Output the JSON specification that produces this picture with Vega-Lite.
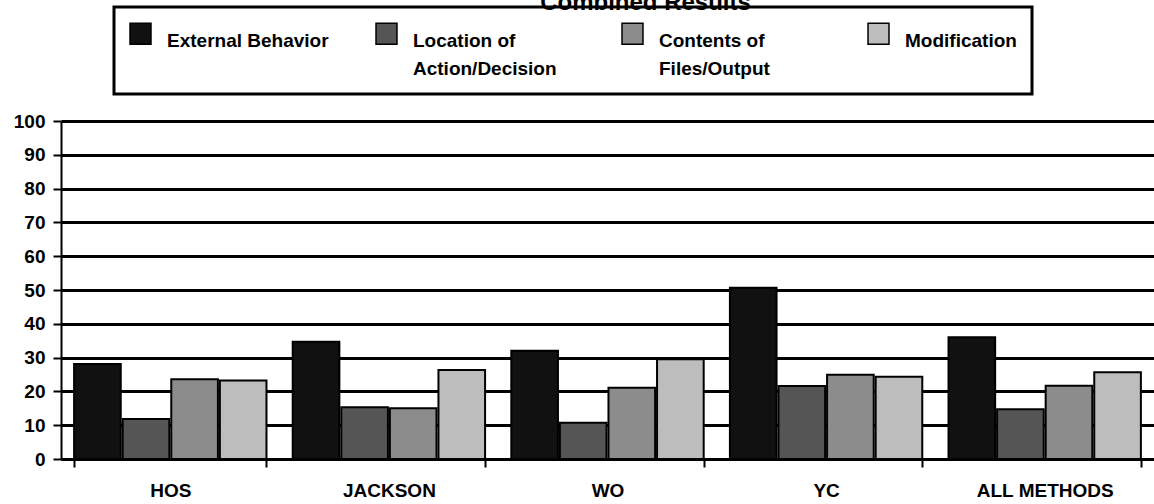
{
  "$schema": "https://vega.github.io/schema/vega-lite/v6.json",
  "width": 1093,
  "height": 338,
  "autosize": "none",
  "padding": {"left": 61, "top": 121, "right": 0, "bottom": 45},
  "background": "white",
  "title": {
    "text": "Combined Results",
    "font": "Liberation Sans",
    "fontSize": 24,
    "fontWeight": "bold",
    "color": "black",
    "anchor": "middle",
    "baseline": "alphabetic",
    "dx": 38,
    "dy": 31,
    "offset": 3
  },
  "data": {
    "values": [
      {"method": "HOS", "category": "External Behavior", "value": 28.1},
      {"method": "HOS", "category": "Location of Action/Decision", "value": 11.8},
      {"method": "HOS", "category": "Contents of Files/Output", "value": 23.6},
      {"method": "HOS", "category": "Modification", "value": 23.2},
      {"method": "JACKSON", "category": "External Behavior", "value": 34.7},
      {"method": "JACKSON", "category": "Location of Action/Decision", "value": 15.3},
      {"method": "JACKSON", "category": "Contents of Files/Output", "value": 15.0},
      {"method": "JACKSON", "category": "Modification", "value": 26.3},
      {"method": "WO", "category": "External Behavior", "value": 32.0},
      {"method": "WO", "category": "Location of Action/Decision", "value": 10.7},
      {"method": "WO", "category": "Contents of Files/Output", "value": 21.1},
      {"method": "WO", "category": "Modification", "value": 29.5},
      {"method": "YC", "category": "External Behavior", "value": 50.7},
      {"method": "YC", "category": "Location of Action/Decision", "value": 21.6},
      {"method": "YC", "category": "Contents of Files/Output", "value": 24.9},
      {"method": "YC", "category": "Modification", "value": 24.3},
      {"method": "ALL METHODS", "category": "External Behavior", "value": 36.0},
      {"method": "ALL METHODS", "category": "Location of Action/Decision", "value": 14.7},
      {"method": "ALL METHODS", "category": "Contents of Files/Output", "value": 21.7},
      {"method": "ALL METHODS", "category": "Modification", "value": 25.7}
    ]
  },
  "mark": {"type": "bar", "stroke": "black", "strokeWidth": 2, "strokeJoin": "miter"},
  "encoding": {
    "x": {
      "field": "method",
      "type": "nominal",
      "sort": ["HOS", "JACKSON", "WO", "YC", "ALL METHODS"],
      "scale": {"paddingInner": 0.12, "paddingOuter": 0.06},
      "title": null,
      "axis": {
        "labelAngle": 0,
        "labelFont": "Liberation Sans",
        "labelFontSize": 19,
        "labelFontWeight": "bold",
        "labelColor": "black",
        "labelPadding": 7,
        "domainColor": "black",
        "domainWidth": 3,
        "tickColor": "black",
        "tickWidth": 2,
        "tickSize": 8,
        "tickBand": "extent",
        "grid": false
      }
    },
    "xOffset": {
      "field": "category",
      "sort": ["External Behavior", "Location of Action/Decision", "Contents of Files/Output", "Modification"],
      "scale": {"paddingInner": 0.04}
    },
    "y": {
      "field": "value",
      "type": "quantitative",
      "scale": {"domain": [0, 100], "nice": false},
      "title": null,
      "axis": {
        "values": [0, 10, 20, 30, 40, 50, 60, 70, 80, 90, 100],
        "labelFont": "Liberation Sans",
        "labelFontSize": 19,
        "labelFontWeight": "bold",
        "labelColor": "black",
        "labelPadding": 8,
        "labelOffset": -7,
        "domainColor": "black",
        "domainWidth": 2,
        "tickColor": "black",
        "tickWidth": 2,
        "tickSize": 8,
        "grid": true,
        "gridColor": "black",
        "gridWidth": 3,
        "gridOpacity": 1
      }
    },
    "color": {
      "field": "category",
      "type": "nominal",
      "scale": {
        "domain": ["External Behavior", "Location of Action/Decision", "Contents of Files/Output", "Modification"],
        "range": ["#111111", "#555555", "#8c8c8c", "#bdbdbd"]
      },
      "legend": {
        "title": null,
        "orient": "none",
        "legendX": 53,
        "legendY": -114,
        "direction": "horizontal",
        "columns": 4,
        "gridAlign": "all",
        "columnPadding": 44,
        "padding": 15,
        "strokeColor": "black",
        "fillColor": "white",
        "symbolType": "square",
        "symbolSize": 440,
        "symbolStrokeColor": "black",
        "symbolStrokeWidth": 1.5,
        "symbolOpacity": 1,
        "labelFont": "Liberation Sans",
        "labelFontSize": 19,
        "labelFontWeight": "bold",
        "labelColor": "black",
        "labelOffset": 15,
        "labelLimit": 400,
        "labelBaseline": "middle",
        "labelExpr": "datum.label == 'Location of Action/Decision' ? ['Location of', 'Action/Decision'] : datum.label == 'Contents of Files/Output' ? ['Contents of', 'Files/Output'] : [datum.label, '']"
      }
    }
  },
  "config": {
    "view": {"stroke": null},
    "legend": {"strokeWidth": 3},
    "style": {"guide-label": {"lineHeight": 28, "dy": 7}}
  }
}
